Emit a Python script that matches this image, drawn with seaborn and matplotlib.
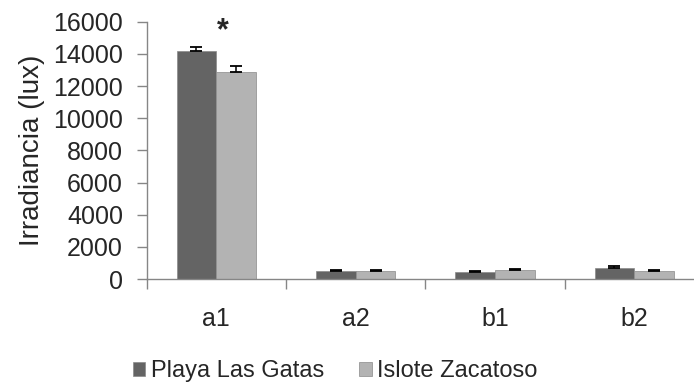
import matplotlib
matplotlib.use("Agg")
import matplotlib.pyplot as plt
import seaborn as sns
import pandas as pd
import numpy as np

categories = ["a1", "a2", "b1", "b2"]
sites = ["Playa Las Gatas", "Islote Zacatoso"]
gatas = [14200, 520, 425, 695]
zacatoso = [12850, 520, 590, 516]
gatas_err = [230, 60, 70, 90]
zacatoso_err = [370, 60, 30, 60]

df = pd.DataFrame({
    "cat": categories * 2,
    "site": [sites[0]] * 4 + [sites[1]] * 4,
    "lux": gatas + zacatoso,
})

sns.set_style("white")
plt.rcParams["font.family"] = ["Liberation Sans", "DejaVu Sans"]

fig = plt.figure(figsize=(6.94, 3.83), dpi=100)
ax = fig.add_axes([0.2114, 0.2715, 0.8029, 0.6718])

palette = {sites[0]: "#646464", sites[1]: "#b3b3b3"}
sns.barplot(data=df, x="cat", y="lux", hue="site", order=categories,
            hue_order=sites, palette=palette, width=0.571, saturation=1,
            errorbar=None, ax=ax, legend=True, edgecolor="#8a8a8a", linewidth=0.5)

for i in range(len(sites)):
    cont = ax.containers[i]
    vals = gatas if i == 0 else zacatoso
    errs = gatas_err if i == 0 else zacatoso_err
    xs = [p.get_x() + p.get_width() / 2 for p in cont.patches]
    ax.errorbar(xs, vals, yerr=[np.zeros(len(errs)), errs], fmt="none",
                ecolor="black", elinewidth=1.1, capsize=4.3, capthick=1.3)

ax.set_ylim(0, 16000)
ax.set_xlim(-0.5, 3.5)
ax.set_yticks(np.arange(0, 16001, 2000))
ax.set_xticks(range(len(categories)))
ax.set_xticklabels(categories, fontsize=18)
ax.tick_params(axis="x", which="major", length=0, pad=20)
ax.set_xticks([-0.5, 0.5, 1.5, 2.5], minor=True)
ax.tick_params(axis="x", which="minor", length=7, width=1, color="#868686",
               direction="out", bottom=True)
ax.tick_params(axis="y", length=7, width=1, color="#868686", direction="out",
               left=True, labelsize=18, pad=10)

for s in ["top", "right"]:
    ax.spines[s].set_visible(False)
for s in ["left", "bottom"]:
    ax.spines[s].set_color("#868686")
    ax.spines[s].set_linewidth(1)

ax.set_xlabel("")
ax.set_ylabel("Irradiancia (lux)", fontsize=20, labelpad=6)

ax.text(0.046, 14880, "*", ha="center", va="baseline", fontsize=22, fontweight="bold",
        clip_on=False)

handles, labels = ax.get_legend_handles_labels()
ax.legend_.remove()
fig.legend(handles, labels, loc="center", bbox_to_anchor=(0.483, 0.031),
           ncol=2, frameon=False, fontsize=17, handlelength=0.52, handleheight=0.52,
           handletextpad=0.22, columnspacing=1.5)

fig.savefig("out.png", dpi=100)
